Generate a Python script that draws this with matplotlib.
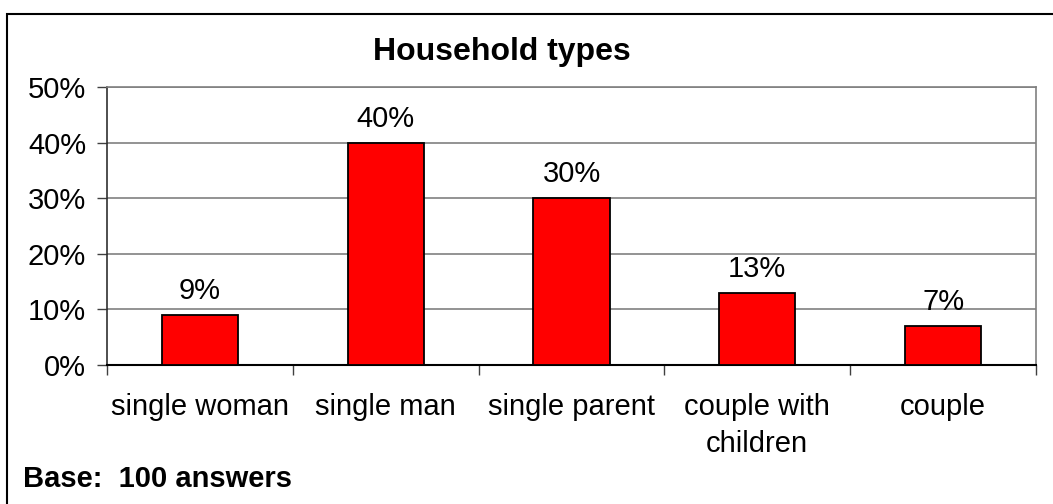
import matplotlib
matplotlib.use("Agg")
import matplotlib.pyplot as plt
from matplotlib.patches import Rectangle
from matplotlib.ticker import MultipleLocator, FuncFormatter

categories = ["single woman", "single man", "single parent", "couple with\nchildren", "couple"]
shares = [9, 40, 30, 13, 7]
value_labels = ["9%", "40%", "30%", "13%", "7%"]
title = "Household types"
footnote = "Base:  100 answers"

W, H = 1053, 504
plt.rcParams["font.family"] = ["Liberation Sans", "DejaVu Sans"]

fig = plt.figure(figsize=(W / 100, H / 100), dpi=100)
fig.patch.set_facecolor("white")

ax = fig.add_axes([107 / W, 1 - 365 / H, (1036 - 107) / W, (365 - 87) / H])

x = list(range(len(categories)))
ax.bar(x, shares, width=0.41, color="#ff0000", edgecolor="black", linewidth=1.3, zorder=3)

for xi, v, lab in zip(x, shares, value_labels):
    ax.annotate(lab, (xi, v), xytext=(0, 11.5), textcoords="offset points",
                ha="center", va="baseline", fontsize=21, color="black")

ax.set_xlim(-0.5, len(categories) - 0.5)
ax.set_ylim(0, 50)
ax.yaxis.set_major_locator(MultipleLocator(10))
ax.yaxis.set_major_formatter(FuncFormatter(lambda v, _: f"{v:.0f}%"))
ax.grid(axis="y", color="#808080", linewidth=1.2, zorder=0)
ax.set_axisbelow(True)

# category ticks sit on the boundaries between groups, labels in the middle
ax.set_xticks([i - 0.5 for i in range(len(categories) + 1)])
ax.set_xticklabels([])
ax.set_xticks(x, minor=True)
ax.set_xticklabels(categories, minor=True, fontsize=21, linespacing=1.4)
ax.tick_params(axis="x", which="major", length=7, width=1, color="#404040", direction="out")
ax.tick_params(axis="x", which="minor", length=0, pad=20)
ax.tick_params(axis="y", length=7, width=1, color="#404040", direction="out", pad=8, labelsize=21)

for side in ("top", "right"):
    ax.spines[side].set_color("#808080")
    ax.spines[side].set_linewidth(1.2)
ax.spines["left"].set_color("#303030")
ax.spines["bottom"].set_color("black")
ax.spines["left"].set_linewidth(1.2)
ax.spines["bottom"].set_linewidth(1.5)

fig.text(502 / W, 1 - 60 / H, title, ha="center", va="baseline",
         fontsize=23, fontweight="bold")
fig.text(23 / W, 1 - 487 / H, footnote, ha="left", va="baseline",
         fontsize=21, fontweight="bold")

# frame around the whole chart area
fig.add_artist(Rectangle((7 / W, -0.2), 1.2, (H - 14) / H + 0.2,
                         transform=fig.transFigure, fill=False,
                         edgecolor="black", linewidth=1.5))

fig.savefig("out.png", dpi=100)
